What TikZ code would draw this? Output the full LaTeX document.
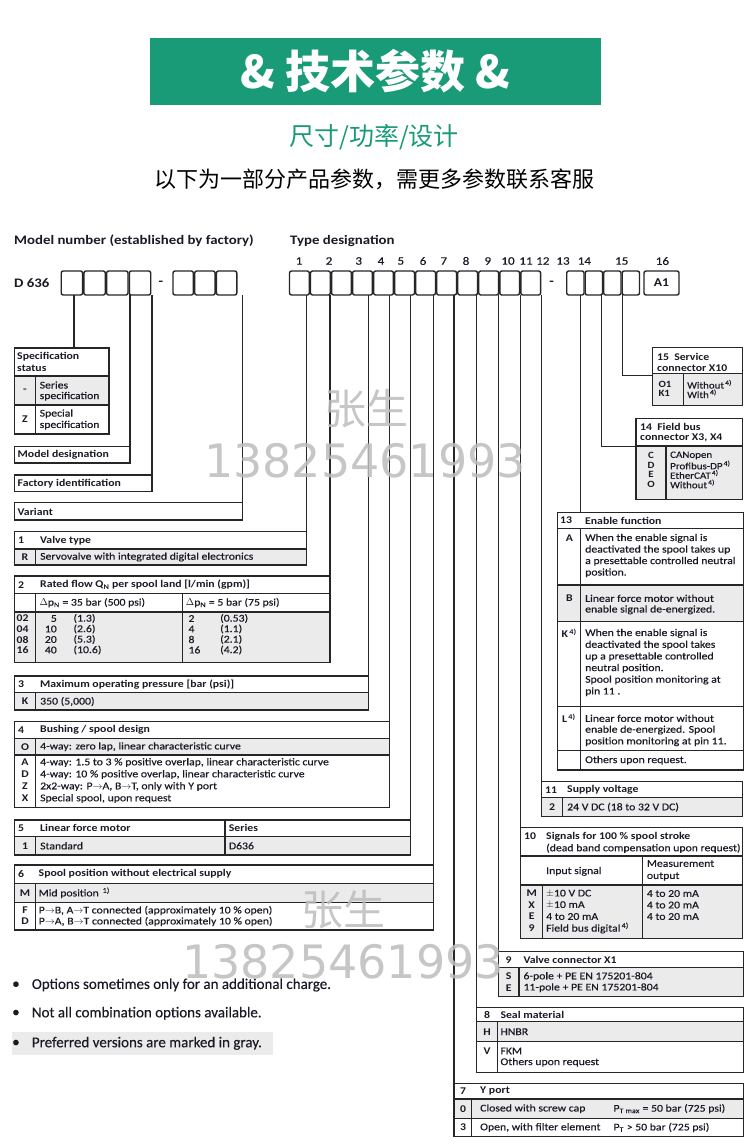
\documentclass[tikz,border=0pt]{standalone}
\usepackage{fontspec}
\setmainfont{Carlito}[FakeStretch=1.14, UprightFeatures={FakeBold=0.35}]
\newfontfamily\bulf{Carlito}[UprightFeatures={FakeBold=0.3}]
\newfontfamily\cjk{Noto Sans CJK SC}
\newfontfamily\dejavu{DejaVu Sans}
\usetikzlibrary{fit}
\definecolor{hdgreen}{HTML}{1A9B78}
\definecolor{lc}{HTML}{262626}
\definecolor{tc}{HTML}{1A1A26}
\definecolor{gfillc}{HTML}{EBEBEB}
\definecolor{wmc}{HTML}{BDBDBD}
\newcommand\tfn{\fontsize{10.3pt}{12pt}\selectfont}
\newcommand\tfb{\fontsize{10.3pt}{12pt}\selectfont\bfseries}
\newcommand\tfs{\fontsize{9.6pt}{11pt}\selectfont}
\newcounter{tn}
\newcommand\tx[3][]{\stepcounter{tn}\node[txt,#1] (txt\arabic{tn}) at (#2) {#3};}
\newcommand\txb[3][]{\stepcounter{tn}\node[txt,font=\tfb,#1] (txt\arabic{tn}) at (#2) {#3};}
\newcommand\txc[3][]{\stepcounter{tn}\node[txt,font=\tfb,anchor=center,#1] (txt\arabic{tn}) at (#2) {#3};}
\newcommand\tframe[5]{\path (#2,#3) coordinate (#1nw) (#4,#5) coordinate (#1se); \node[frame,fit=(#1nw)(#1se)] (#1) {};}
\newcommand\gfl[4]{\fill[gfillc] (#1,#2) rectangle (#3,#4);}
\newcommand\fnm[1]{\textsuperscript{\,#1)}}
\newcommand\ar{$\rightarrow$}
\tikzset{
  frame/.style={draw=lc, line width=1.4pt, inner sep=0pt, outer sep=0pt},
  conn/.style={draw=lc, line width=1.5pt},
  il/.style={draw=lc, line width=1.1pt},
  txt/.style={anchor=west, inner sep=0pt, text=tc, font=\tfn},
  nbox/.style={draw=lc, line width=1.4pt, rounded corners=2pt, inner sep=0pt, outer sep=0pt, minimum height=24pt, anchor=north west},
  wmk/.style={text=wmc, inner sep=0pt, opacity=0.85},
  bul/.style={anchor=west, inner sep=0pt, text=tc, font=\bulf\fontsize{15pt}{17pt}\selectfont}
}
\begin{document}
\begin{tikzpicture}[x=1pt,y=-1pt]
\useasboundingbox (0,0) rectangle (750,1147);
\fill[white] (0,0) rectangle (750,1147);
% ---------- header ----------
\node[fill=hdgreen, minimum width=451pt, minimum height=67pt, inner sep=0pt, text=white,
  font=\cjk\bfseries\fontsize{45pt}{48pt}\selectfont] (title) at (375.5,71.5) {\& 技术参数 \&};
\node[text=hdgreen, inner sep=0pt, font=\cjk\fontsize{25pt}{28pt}\selectfont] (subt) at (374,137) {尺寸/功率/设计};
\node[text=black, inner sep=0pt, font=\cjk\fontsize{22pt}{25pt}\selectfont] (note) at (374,179) {以下为一部分产品参数，需更多参数联系客服};
% ---------- model number row ----------
\node[txt, font=\fontsize{13pt}{15pt}\selectfont\bfseries] (mnum) at (14,241) {Model number (established by factory)};
\node[txt, font=\fontsize{13pt}{15pt}\selectfont\bfseries] (tdes) at (290,241) {Type designation};
\node[txt, font=\fontsize{13pt}{15pt}\selectfont\bfseries] (d636) at (14,283) {D 636};
\foreach \n/\x in {1/299,2/329,3/358.7,4/381,5/400.8,6/423,7/443.8,8/466,9/487.8,10/508,11/526,12/542.8,13/563,14/584.4,15/621.7,16/662.4}
  \node[txt, anchor=center, font=\fontsize{11.5pt}{13pt}\selectfont] (num\n) at (\x,261) {\n};
\foreach \i in {1,...,4} {\pgfmathsetmacro\xx{61.2+(\i-1)*22.7}\node[nbox, minimum width=21.4pt] (m\i) at (\xx,271) {};}
\foreach \i in {1,...,3} {\pgfmathsetmacro\xx{173+(\i-1)*21.7}\node[nbox, minimum width=20.4pt] (g\i) at (\xx,271) {};}
\foreach \i in {1,...,12} {\pgfmathsetmacro\xx{289.5+(\i-1)*21.03}\node[nbox, minimum width=19.8pt] (t\i) at (\xx,271) {};}
\foreach \i in {1,...,4} {\pgfmathsetmacro\xx{566.7+(\i-1)*18.5}\node[nbox, minimum width=17.3pt] (u\i) at (\xx,271) {};}
\node[nbox, minimum width=35pt, font=\fontsize{12pt}{14pt}\selectfont\bfseries, text=tc] (a1) at (644,271) {A1};
\node[txt, anchor=center, font=\fontsize{13pt}{15pt}\selectfont\bfseries] (dash1) at (160.8,283) {-};
\node[txt, anchor=center, font=\fontsize{13pt}{15pt}\selectfont\bfseries] (dash2) at (551.6,283) {-};
% ---------- gray fills ----------
\gfl{14.3}{376}{109}{405}
\gfl{14.3}{549}{306.7}{565}
\gfl{14.3}{612}{330}{662.5}
\gfl{14.3}{692.7}{368.3}{710}
\gfl{14.3}{738.3}{389.3}{755}
\gfl{14.3}{836.7}{410.7}{855}
\gfl{14.3}{883.3}{433.3}{902.3}
\gfl{652.7}{373.3}{742.7}{405.7}
\gfl{636}{446}{742.7}{499.3}
\gfl{557.3}{585}{743.3}{621.7}
\gfl{541.7}{797.7}{742.3}{816.7}
\gfl{520.7}{885}{742.3}{938.3}
\gfl{498.3}{967.7}{743.3}{996.7}
\gfl{476.7}{1021.7}{743.3}{1041.7}
\gfl{454}{1099}{743.3}{1118.3}
\fill[gfillc] (11.7,1031.7) rectangle (273.3,1055);
% ---------- left model tables ----------
\tframe{ss}{14.3}{348}{109}{434}
\draw[il] (14.3,376) -- (109,376) (14.3,405) -- (109,405) (35.7,376) -- (35.7,434);
\txb{17,356.5}{Specification}
\txb{17,368}{status}
\txc{25,390.5}{-}
\tx{39.5,385}{Series}
\tx{39.5,396.3}{specification}
\txc{25,419.5}{Z}
\tx{39.5,413.8}{Special}
\tx{39.5,425.2}{specification}
\tframe{md}{14.3}{446.7}{130}{463}
\txb{17.5,455}{Model designation}
\tframe{fi}{14.3}{475}{152}{491.7}
\txb{17.5,483.5}{Factory identification}
\tframe{va}{14.3}{502.7}{242.3}{520}
\txb{17.5,511.5}{Variant}
% ---------- left type tables ----------
\tframe{vt}{14.3}{531.7}{306.7}{565}
\draw[il] (14.3,549) -- (306.7,549) (35.7,549) -- (35.7,565);
\txb{18,540.3}{1}\txb{40,540.3}{Valve type}
\txc{25,557}{R}\tx{40,557}{Servovalve with integrated digital electronics}
\tframe{rf}{14.3}{576}{330}{662.5}
\draw[il] (14.3,593.5) -- (330,593.5) (14.3,612) -- (330,612) (35.7,593.5) -- (35.7,662.5) (182.3,593.5) -- (182.3,662.5);
\txb{18,584.8}{2}\txb{40,584.8}{Rated flow Q\textsubscript{N} per spool land [l/min (gpm)]}
\tx{39.3,602.7}{$\Delta$p\textsubscript{N} = 35 bar (500 psi)}
\tx{185.7,602.7}{$\Delta$p\textsubscript{N} = 5 bar (75 psi)}
\foreach \c/\va/\vb/\wa/\wb/\yy in {02/5/1.3/2/0.53/618.5, 04/10/2.6/4/1.1/629, 08/20/5.3/8/2.1/639.5, 16/40/10.6/16/4.2/650}{
  \node[txt, font=\tfb] (rfc\c) at (16.5,\yy) {\c};
  \node[txt, anchor=east] (rfa\c) at (57,\yy) {\va};
  \node[txt] (rfb\c) at (73.3,\yy) {(\vb)};
  \node[txt] (rfd\c) at (188.3,\yy) {\wa};
  \node[txt] (rfe\c) at (220,\yy) {(\wb)};
}
\tframe{pr}{14.3}{676}{368.3}{710}
\draw[il] (14.3,692.7) -- (368.3,692.7) (35.7,692.7) -- (35.7,710);
\txb{18,684.3}{3}\txb{40,684.3}{Maximum operating pressure [bar (psi)]}
\txc{25,701.5}{K}\tx{40,701.5}{350 (5,000)}
\tframe{bu}{14.3}{721.7}{389.3}{807.3}
\draw[il] (14.3,738.3) -- (389.3,738.3) (14.3,755) -- (389.3,755) (35.7,738.3) -- (35.7,807.3);
\txb{18,730}{4}\txb{40,730}{Bushing / spool design}
\txc{25,746.7}{O}\tx{40,746.7}{4-way: zero lap, linear characteristic curve}
\txc{25,762.5}{A}\tx{40,762.5}{4-way: 1.5 to 3 \% positive overlap, linear characteristic curve}
\txc{25,774.5}{D}\tx{40,774.5}{4-way: 10 \% positive overlap, linear characteristic curve}
\txc{25,786.5}{Z}\tx{40,786.5}{2x2-way: P\ar A, B\ar T, only with Y port}
\txc{25,798.5}{X}\tx{40,798.5}{Special spool, upon request}
\tframe{lf}{14.3}{820}{410.7}{855}
\draw[il] (14.3,836.7) -- (410.7,836.7) (35.7,836.7) -- (35.7,855) (225,820) -- (225,855);
\txb{18,828.3}{5}\txb{40,828.3}{Linear force motor}\txb{228.7,828.3}{Series}
\txc{25,845.8}{1}\tx{40,845.8}{Standard}\tx{228.7,845.8}{D636}
\tframe{sp}{14.3}{865}{433.3}{930}
\draw[il] (14.3,883.3) -- (433.3,883.3) (14.3,902.3) -- (433.3,902.3) (35.7,883.3) -- (35.7,930);
\txb{18,874}{6}\txb{38.5,874}{Spool position without electrical supply}
\txc{25,892.8}{M}\tx{38.5,892.8}{Mid position \fnm{1}}
\txc{25,910.5}{F}\tx{38.5,910.5}{P\ar B, A\ar T connected (approximately 10 \% open)}
\txc{25,921.5}{D}\tx{38.5,921.5}{P\ar A, B\ar T connected (approximately 10 \% open)}
% ---------- right tables ----------
\tframe{s15}{652.7}{347.3}{742.7}{405.7}
\draw[il] (652.7,373.3) -- (742.7,373.3) (683.3,373.3) -- (683.3,405.7);
\txb{657,356.7}{15\enspace Service}\txb{657,368}{connector X10}
\txb[font=\tfs\bfseries]{658.3,384.3}{O1}\tx[font=\tfs]{687,384.3}{Without\fnm{4}}
\txb[font=\tfs\bfseries]{658.3,393.8}{K1}\tx[font=\tfs]{687,393.8}{With\fnm{4}}
\tframe{s14}{636}{418.3}{742.7}{499.3}
\draw[il] (636,446) -- (742.7,446) (666,446) -- (666,499.3);
\txb{640,426.5}{14\enspace Field bus}\txb{640,437.5}{connector X3, X4}
\txc[font=\tfs\bfseries]{651,455.5}{C}\tx[font=\tfs]{670,455.5}{CANopen}
\txc[font=\tfs\bfseries]{651,465}{D}\tx[font=\tfs]{670,465}{Profibus-DP\fnm{4}}
\txc[font=\tfs\bfseries]{651,474.5}{E}\tx[font=\tfs]{670,474.5}{EtherCAT\fnm{4}}
\txc[font=\tfs\bfseries]{651,484}{O}\tx[font=\tfs]{670,484}{Without\fnm{4}}
\tframe{en}{557.3}{512.3}{743.3}{770}
\draw[il] (557.3,528.3) -- (743.3,528.3) (557.3,585) -- (743.3,585) (557.3,621.7) -- (743.3,621.7)
  (557.3,706.7) -- (743.3,706.7) (557.3,750.7) -- (743.3,750.7) (580.7,528.3) -- (580.7,770);
\txb{560,520.5}{13}\txb{585,520.5}{Enable function}
\txc{569.3,538.3}{A}
\tx{585,538.3}{When the enable signal is}
\tx{585,549.8}{deactivated the spool takes up}
\tx{585,561.3}{a presettable controlled neutral}
\tx{585,572.8}{position.}
\txc{569.3,598.3}{B}
\tx{585,598.3}{Linear force motor without}
\tx{585,609.8}{enable signal de-energized.}
\txb{561.5,633.3}{K\fnm{4}}
\tx{585,633.3}{When the enable signal is}
\tx{585,645}{deactivated the spool takes}
\tx{585,656.7}{up a presettable controlled}
\tx{585,668.3}{neutral position.}
\tx{585,680}{Spool position monitoring at}
\tx{585,691.7}{pin 11 .}
\txb{562,718.3}{L\fnm{4}}
\tx{585,718.3}{Linear force motor without}
\tx{585,730}{enable de-energized. Spool}
\tx{585,741.7}{position monitoring at pin 11.}
\tx{585,760.3}{Others upon request.}
\tframe{sv}{541.7}{781.7}{742.3}{816.7}
\draw[il] (541.7,797.7) -- (742.3,797.7) (562.7,797.7) -- (562.7,816.7);
\txb{545,789.8}{11}\txb{567,789.8}{Supply voltage}
\txc{552.2,807.2}{2}\tx{567,807.2}{24 V DC (18 to 32 V DC)}
\tframe{sg}{520.7}{827.7}{742.3}{938.3}
\draw[il] (520.7,856) -- (742.3,856) (520.7,885) -- (742.3,885) (542.7,885) -- (542.7,938.3) (642.7,856) -- (642.7,938.3);
\txb{524,836.5}{10}\txb{546,836.5}{Signals for 100 \% spool stroke}
\tx{546,848.3}{(dead band compensation upon request)}
\tx{546,871.3}{Input signal}
\tx{646.7,863.5}{Measurement}\tx{646.7,876.5}{output}
\txc{531.7,893.5}{M}\tx{546,893.5}{$\pm$10 V DC}\tx{646.7,893.5}{4 to 20 mA}
\txc{531.7,905}{X}\tx{546,905}{$\pm$10 mA}\tx{646.7,905}{4 to 20 mA}
\txc{531.7,916.5}{E}\tx{546,916.5}{4 to 20 mA}\tx{646.7,916.5}{4 to 20 mA}
\txc{531.7,928}{9}\tx{546,928}{Field bus digital\fnm{4}}
\tframe{vc}{498.3}{951.7}{743.3}{996.7}
\draw[il] (498.3,967.7) -- (743.3,967.7) (519,967.7) -- (519,996.7);
\txc{508.7,960}{9}\txb{523.3,960}{Valve connector X1}
\txc{508.7,976.5}{S}\tx{523.3,976.5}{6-pole + PE EN 175201-804}
\txc{508.7,987.7}{E}\tx{523.3,987.7}{11-pole + PE EN 175201-804}
\tframe{sm}{476.7}{1007.7}{743.3}{1072.7}
\draw[il] (476.7,1021.7) -- (743.3,1021.7) (476.7,1041.7) -- (743.3,1041.7) (497.7,1021.7) -- (497.7,1072.7);
\txc{487,1014.7}{8}\txb{500.3,1014.7}{Seal material}
\txc{487,1031.7}{H}\tx{500.3,1031.7}{HNBR}
\txc{487,1051}{V}\tx{500.3,1051}{FKM}
\tx{500.3,1062.3}{Others upon request}
\tframe{yp}{454}{1083.3}{743.3}{1136.7}
\draw[il] (454,1099) -- (743.3,1099) (454,1118.3) -- (743.3,1118.3) (471.7,1099) -- (471.7,1136.7);
\txc{463,1091.2}{7}\txb{480,1091.2}{Y port}
\txc{463,1108.7}{0}\tx{480,1108.7}{Closed with screw cap}\tx{613.3,1108.7}{P\textsubscript{T max} = 50 bar (725 psi)}
\txc{463,1127.5}{3}\tx{480,1127.5}{Open, with filter element}\tx{613.3,1127.5}{P\textsubscript{T} > 50 bar (725 psi)}
% ---------- connectors ----------
\coordinate (c0) at (74,348);
\draw[conn] (c0) -- (c0 |- m1.south);
\draw[conn] (md.north east) -- (md.north east |- m4.south);
\draw[conn] (fi.north east) -- (fi.north east |- m4.south);
\draw[conn] (va.north east) -- (va.north east |- g3.south);
\draw[conn] (vt.north east) -- (vt.north east |- t1.south);
\draw[conn] (rf.north east) -- (rf.north east |- t2.south);
\draw[conn] (pr.north east) -- (pr.north east |- t4.south);
\draw[conn] (bu.north east) -- (bu.north east |- t5.south);
\draw[conn] (lf.north east) -- (lf.north east |- t6.south);
\draw[conn] (sp.north east) -- (sp.north east |- t7.south);
\draw[conn] (yp.north west) -- (yp.north west |- t8.south);
\draw[conn] (sm.north west) -- (sm.north west |- t9.south);
\draw[conn] (vc.north west) -- (vc.north west |- t10.south);
\draw[conn] (sg.north west) -- (sg.north west |- t11.south);
\draw[conn] (sv.north west) -- (sv.north west |- t12.south);
\coordinate (c13) at (580.7,512.3);
\draw[conn] (c13) -- (c13 |- u1.south);
\coordinate (c14) at (601.7,446.5);
\draw[conn] (c14 |- u2.south) -- (c14) -- (c14 -| s14.west);
\coordinate (c15) at (622.7,375.5);
\draw[conn] (c15 |- u3.south) -- (c15) -- (c15 -| s15.west);
% ---------- bullets ----------
\node[bul] (bl1) at (12,985) {•};
\node[bul] (bt1) at (31.7,985) {Options sometimes only for an additional charge.};
\node[bul] (bl2) at (12,1013.3) {•};
\node[bul] (bt2) at (31.7,1013.3) {Not all combination options available.};
\node[bul] (bl3) at (12,1043.3) {•};
\node[bul] (bt3) at (31.7,1043.3) {Preferred versions are marked in gray.};
% ---------- watermarks ----------
\node[wmk, font=\cjk\fontsize{42pt}{44pt}\selectfont] (wm1) at (366,409) {张生};
\node[wmk, font=\dejavu\fontsize{46pt}{48pt}\selectfont] (wm2) at (365,461) {13825461993};
\node[wmk, font=\cjk\fontsize{42pt}{44pt}\selectfont] (wm3) at (343,910) {张生};
\node[wmk, font=\dejavu\fontsize{46pt}{48pt}\selectfont] (wm4) at (343,962) {13825461993};
\end{tikzpicture}
\end{document}
